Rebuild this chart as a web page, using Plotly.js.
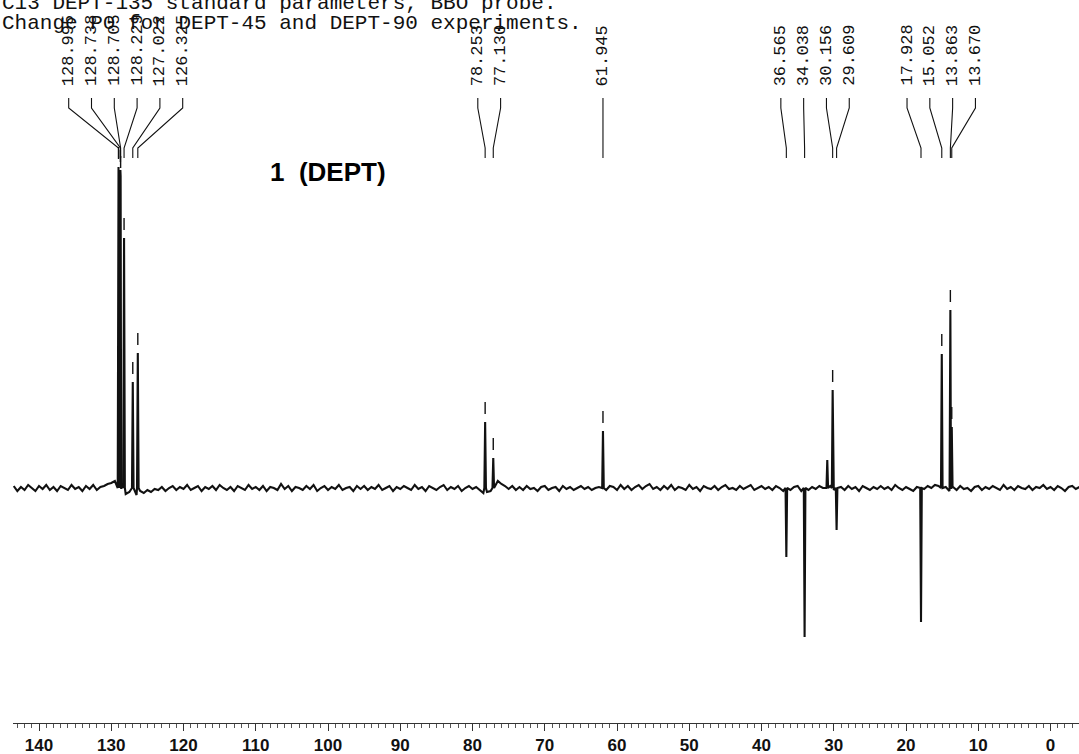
<!DOCTYPE html>
<html><head><meta charset="utf-8">
<script src="https://cdn.plot.ly/plotly-3.0.1.min.js"></script>
<style>html,body{margin:0;padding:0;background:#fff;}#chart{width:1079px;height:754px;}</style>
</head><body><div id="chart"></div>
<script>
// ---------------- data ----------------
const headerLines = [
  "C13 DEPT-135 standard parameters, BBO probe.",
  "Change P0 for DEPT-45 and DEPT-90 experiments."
];
const spectrumTitle = "1  (DEPT)";

// peak positions (ppm) and heights (a.u., + = CH/CH3, - = CH2)
const peakPpm = [128.995, 128.738, 128.705, 128.229, 127.022, 126.325,
                 78.253, 77.130, 61.945,
                 36.565, 34.038, 30.900, 30.156, 29.609,
                 17.928, 15.052, 13.863, 13.670];
const peakIntensity = [321, 318, 312, 250, 106, 135,
                       66, 30, 57,
                       -69, -149, 28, 98, -42,
                       -134, 134, 178, 61];

// picked / labelled peaks
const labelPpm = [128.995, 128.738, 128.705, 128.229, 127.022, 126.325,
                  78.253, 77.130, 61.945,
                  36.565, 34.038, 30.156, 29.609,
                  17.928, 15.052, 13.863, 13.670];

// baseline (noise), every 0.5 ppm from 143.5 ppm down to -4.0 ppm
const noiseStartPpm = 143.5;
const noiseStepPpm = 0.5;
const baselineNoise = [
  2,-3,1,-2,3,0,-3,2,-1,3,-2,1,-3,2,0,-2,3,-1,1,-3,
  2,-1,3,-2,1,2,4,5,7,8,4,-6,-4,-3,-7,-3,-5,-2,-4,-1,
  -2,1,-3,0,2,-2,1,-1,3,-2,0,2,-3,1,-1,2,-2,3,0,-2,
  1,-3,2,0,-2,3,-1,1,-2,2,-3,1,0,-2,4,-1,2,-3,1,0,
  -2,2,-1,3,-3,0,2,-2,1,-1,3,-2,0,1,-3,2,-1,2,-2,1,
  -1,3,-2,0,2,-3,1,-1,2,0,-2,3,-1,1,-3,2,0,-2,1,3,
  -2,1,-1,2,-3,0,2,-1,1,-2,-5,-4,-3,-12,7,4,2,-1,2,-2,
  1,-2,2,-1,0,-3,1,2,-2,0,1,-3,2,-1,1,-2,0,2,-1,1,
  -2,0,1,-1,-2,2,1,-2,3,-1,2,-2,1,3,-1,2,4,-1,1,-2,
  2,-1,3,-2,1,0,-2,3,-1,1,-3,2,0,-1,2,-2,1,3,-1,0,
  -2,2,-1,1,3,-2,0,2,-1,1,-2,2,0,-3,-4,-2,1,2,-3,-4,
  -2,1,-1,2,0,3,2,-2,-3,1,-2,2,-1,1,-3,2,0,-2,1,-1,
  2,-1,1,-2,3,0,-2,1,-1,-3,1,-2,-1,2,0,3,2,4,1,-3,
  1,-2,2,-1,0,-3,1,2,-2,1,-1,2,0,-2,3,-1,1,-2,2,0,
  -1,2,-2,1,0,3,-1,1,-2,2,0,-3,1,2,-1,1
];

const xTickVals = [140, 130, 120, 110, 100, 90, 80, 70, 60, 50, 40, 30, 20, 10, 0];

// ---------------- layout constants ----------------
const W = 1079, H = 754;
const PLOT_L = 13, PLOT_B = 31;
const PLOT_H = H - PLOT_B;               // 723 px
const X_RANGE = [143.6, -3.94];
const BASE_PX = 488;                      // baseline pixel row
const Y_RANGE = [-(PLOT_H - BASE_PX), BASE_PX]; // 1 unit = 1 px
const v = px => BASE_PX - px;             // pixel row -> y data value
const PEAK_HALF = 0.11;                   // half base width of a spike (ppm)
const PX_PER_PPM = (W - PLOT_L) / (X_RANGE[0] - X_RANGE[1]);
const LABEL_GAP = 22.8 / PX_PER_PPM;      // label spacing (ppm)
const GROUP_BREAK = 6;                    // ppm gap that starts a new label group

// ---------------- spectrum trace ----------------
const pts = [];
baselineNoise.forEach((n, i) => {
  const x = noiseStartPpm - i * noiseStepPpm;
  if (peakPpm.some(p => Math.abs(p - x) < PEAK_HALF + 0.02)) return;
  pts.push([x, n]);
});
peakPpm.forEach((p, i) => {
  pts.push([p + PEAK_HALF, 0]);
  pts.push([p, peakIntensity[i]]);
  pts.push([p - PEAK_HALF, 0]);
});
pts.sort((a, b) => b[0] - a[0]);
const spectrum = {
  x: pts.map(d => d[0]), y: pts.map(d => d[1]),
  type: 'scatter', mode: 'lines', hoverinfo: 'skip',
  line: {color: '#111', width: 2.1}
};

// ---------------- peak-pick markers ----------------
const mx = [], my = [];
labelPpm.forEach(p => {
  const h = peakIntensity[peakPpm.indexOf(p)];
  if (h > 0) { mx.push(p, p, null); my.push(h + 8, h + 20, null); }
});
const markers = {x: mx, y: my, type: 'scatter', mode: 'lines', hoverinfo: 'skip',
  line: {color: '#111', width: 1.4}};

// ---------------- label groups and connectors ----------------
const sorted = labelPpm.slice().sort((a, b) => b - a);
const groups = [];
sorted.forEach(p => {
  const g = groups[groups.length - 1];
  if (g && g[g.length - 1] - p < GROUP_BREAK) g.push(p); else groups.push([p]);
});
const cx = [], cy = [], annotations = [];
groups.forEach(g => {
  const mean = g.reduce((s, p) => s + p, 0) / g.length;
  g.forEach((p, k) => {
    const lx = mean - (k - (g.length - 1) / 2) * LABEL_GAP;
    cx.push(lx, lx, p, p, null);
    cy.push(v(98), v(108), v(148), v(158), null);
    annotations.push({
      x: lx, y: v(87), xref: 'x', yref: 'y', text: p.toFixed(3),
      textangle: -90, xanchor: 'center', yanchor: 'bottom', showarrow: false,
      borderpad: 0,
      font: {family: 'Liberation Mono, monospace', size: 17, color: '#111'}
    });
  });
});
const connectors = {x: cx, y: cy, type: 'scatter', mode: 'lines', hoverinfo: 'skip',
  line: {color: '#111', width: 1.1}};

// header lines
const headerCenters = [4, 23];
headerLines.forEach((t, i) => {
  annotations.push({
    x: 0, xref: 'paper', xshift: -PLOT_L + 1, xanchor: 'left',
    y: 1 - headerCenters[i] / PLOT_H, yref: 'paper', yanchor: 'middle',
    text: t, showarrow: false, borderpad: 0,
    font: {family: 'Liberation Mono, monospace', size: 21, color: '#111'}
  });
});
// spectrum title
annotations.push({
  x: 0, xref: 'paper', xshift: 268 - PLOT_L, xanchor: 'left',
  y: 1 - 172 / PLOT_H, yref: 'paper', yanchor: 'middle',
  text: '<b>' + spectrumTitle + '</b>', showarrow: false,
  font: {family: 'Liberation Sans, Arial, sans-serif', size: 26, color: '#000'}
});

const layout = {
  width: W, height: H,
  margin: {l: PLOT_L, r: 0, t: 0, b: PLOT_B},
  paper_bgcolor: '#fff', plot_bgcolor: '#fff',
  showlegend: false,
  xaxis: {
    range: X_RANGE, showgrid: false, zeroline: false,
    showline: true, linecolor: '#333', linewidth: 1,
    ticks: 'outside', ticklen: 7, tickwidth: 1, tickcolor: '#333',
    tickmode: 'array', tickvals: xTickVals, ticktext: xTickVals.map(String),
    ticklabelstandoff: 0,
    tickfont: {family: 'Liberation Sans, Arial, sans-serif', size: 17, color: '#111', weight: 'bold'},
    minor: {tickmode: 'linear', tick0: 0, dtick: 1, ticks: 'outside', ticklen: 3.5, tickwidth: 1, tickcolor: '#555'},
    fixedrange: true
  },
  yaxis: {range: Y_RANGE, visible: false, fixedrange: true},
  annotations: annotations
};

Plotly.newPlot('chart', [spectrum, markers, connectors], layout, {displayModeBar: false, staticPlot: true});
</script>
</body></html>
